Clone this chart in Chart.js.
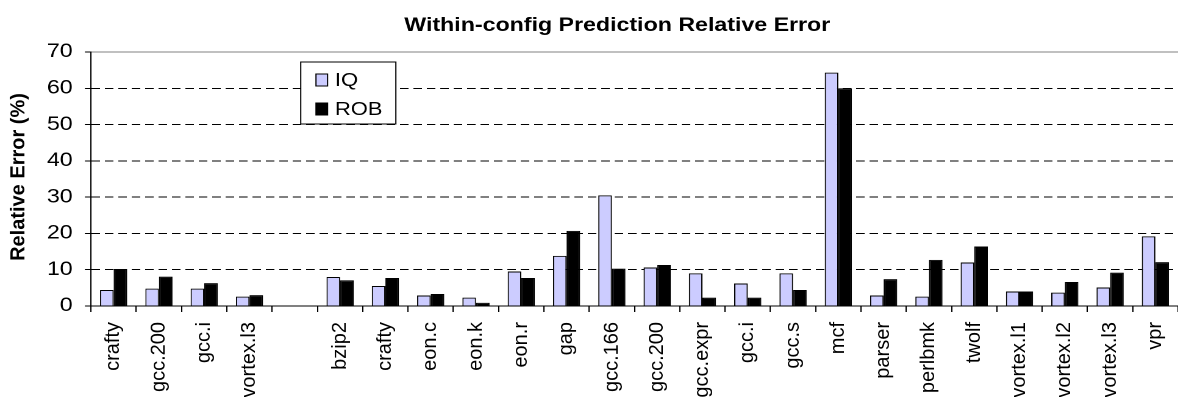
<!DOCTYPE html>
<html>
<head>
<meta charset="utf-8">
<script src="https://cdn.jsdelivr.net/npm/chart.js@4"></script>
<style>
  body { margin: 0; background: #fff; }
  #wrap { width: 1178px; height: 397px; overflow: hidden; }
  /* the original figure is stretched sideways, so the chart is drawn narrower and widened */
  #inner { width: 966px; height: 397px; transform: scaleX(1.2195); transform-origin: 0 0; }
</style>
</head>
<body>
<div id="wrap"><div id="inner"><canvas id="myChart"></canvas></div></div>
<script>
const benchmarks = ["crafty", "gcc.200", "gcc.i", "vortex.l3", "", "bzip2", "crafty", "eon.c", "eon.k", "eon.r", "gap", "gcc.166", "gcc.200", "gcc.expr", "gcc.i", "gcc.s", "mcf", "parser", "perlbmk", "twolf", "vortex.l1", "vortex.l2", "vortex.l3", "vpr"];
const iqError = [4.4, 4.8, 4.8, 2.6, null, 8.0, 5.5, 2.9, 2.3, 9.5, 13.8, 30.5, 10.6, 9.0, 6.2, 9.0, 64.3, 2.9, 2.6, 12.0, 4.0, 3.7, 5.1, 19.2];
const robError = [10.2, 8.1, 6.3, 3.0, null, 7.1, 7.7, 3.3, 0.9, 7.7, 20.7, 10.3, 11.3, 2.3, 2.3, 4.4, 60.0, 7.4, 12.7, 16.4, 4.0, 6.6, 9.2, 12.1];
const yMin = 0;
const yMax = 70;
const yStep = 10;
const chartTitle = "Within-config Prediction Relative Error";
const yTitle = "Relative Error (%)";

const FONT = "'Liberation Sans', Arial, sans-serif";
const STRETCH = 1.2195;

// title sits a little left of the plot centre in the original
const offsetTitle = {
  id: "offsetTitle",
  afterDraw(chart) {
    const { ctx } = chart;
    ctx.save();
    ctx.font = "bold 19px " + FONT;
    ctx.fillStyle = "#000";
    ctx.textAlign = "center";
    ctx.textBaseline = "alphabetic";
    ctx.fillText(chartTitle, chart.width * 0.524, 31);
    ctx.restore();
  }
};

// vertical texts are not stretched in the original, so undo the sideways scale for them
const uprightTexts = {
  id: "uprightTexts",
  afterDraw(chart) {
    const { ctx, chartArea } = chart;
    const xs = chart.scales.x;
    ctx.save();
    ctx.fillStyle = "#000";
    ctx.font = "20px " + FONT;
    ctx.textAlign = "right";
    ctx.textBaseline = "middle";
    benchmarks.forEach((name, i) => {
      ctx.save();
      ctx.translate(xs.getPixelForTick(i), xs.top + 16);
      ctx.scale(1 / STRETCH, 1);
      ctx.rotate(-Math.PI / 2);
      ctx.fillText(name, 0, 0);
      ctx.restore();
    });
    ctx.font = "bold 20px " + FONT;
    ctx.textAlign = "center";
    ctx.translate(15.6, (chartArea.top + chartArea.bottom) / 2 - 2);
    ctx.scale(1 / STRETCH, 1);
    ctx.rotate(-Math.PI / 2);
    ctx.fillText(yTitle, 0, 0);
    ctx.restore();
  }
};

// legend drawn as a boxed key inside the plot, like the original
const boxLegend = {
  id: "boxLegend",
  afterDraw(chart) {
    const { ctx, chartArea } = chart;
    const x = chartArea.left + 172;
    const y = chartArea.top + 10;
    const w = 78, h = 62;
    ctx.save();
    ctx.fillStyle = "#fff";
    ctx.fillRect(x, y, w, h);
    ctx.strokeStyle = "#000";
    ctx.lineWidth = 1;
    ctx.strokeRect(x, y, w, h);
    ctx.font = "18px " + FONT;
    ctx.textBaseline = "middle";
    chart.data.datasets.forEach((ds, i) => {
      const cy = y + 18 + i * 29;
      ctx.fillStyle = ds.backgroundColor;
      ctx.fillRect(x + 12.5, cy - 6, 9.5, 12);
      ctx.strokeStyle = "#000";
      ctx.strokeRect(x + 12.5, cy - 6, 9.5, 12);
      ctx.fillStyle = "#000";
      ctx.fillText(ds.label, x + 28, cy + 1);
    });
    ctx.restore();
  }
};

new Chart(document.getElementById("myChart"), {
  type: "bar",
  data: {
    labels: benchmarks,
    datasets: [
      {
        label: "IQ",
        data: iqError,
        backgroundColor: "#ccccff",
        borderColor: "#000",
        borderWidth: 1,
      },
      {
        label: "ROB",
        data: robError,
        backgroundColor: "#000",
        borderColor: "#000",
        borderWidth: 1,
      },
    ],
  },
  options: {
    responsive: true,
    maintainAspectRatio: false,
    animation: false,
    devicePixelRatio: 2,
    datasets: {
      bar: { categoryPercentage: 0.6, barPercentage: 1.0 },
    },
    layout: { padding: { top: 52, left: 0, right: 0, bottom: 0 } },
    plugins: {
      legend: { display: false },
      tooltip: { enabled: false },
      title: { display: false },
    },
    scales: {
      x: {
        offset: true,
        grid: {
          offset: true,
          drawOnChartArea: false,
          color: "#000",
          tickLength: 6,
        },
        border: { color: "#000", width: 1 },
        ticks: { display: false, autoSkip: false },
        afterFit(axis) { axis.height = 91; },
      },
      y: {
        min: yMin,
        max: yMax,
        ticks: {
          stepSize: yStep,
          padding: 10,
          color: "#000",
          font: { family: FONT, size: 19 },
        },
        grid: {
          color: (c) => (c.tick && c.tick.value === yMax ? "#808080" : "#000"),
          tickColor: "#000",
          tickLength: 5,
        },
        border: {
          color: "#000",
          dash: (c) => (c.tick && (c.tick.value === yMax || c.tick.value === yMin) ? [] : [7, 4]),
        },
        title: { display: false },
        afterFit(axis) { axis.width = 74.6; },
      },
    },
  },
  plugins: [offsetTitle, uprightTexts, boxLegend],
});
</script>
</body>
</html>
